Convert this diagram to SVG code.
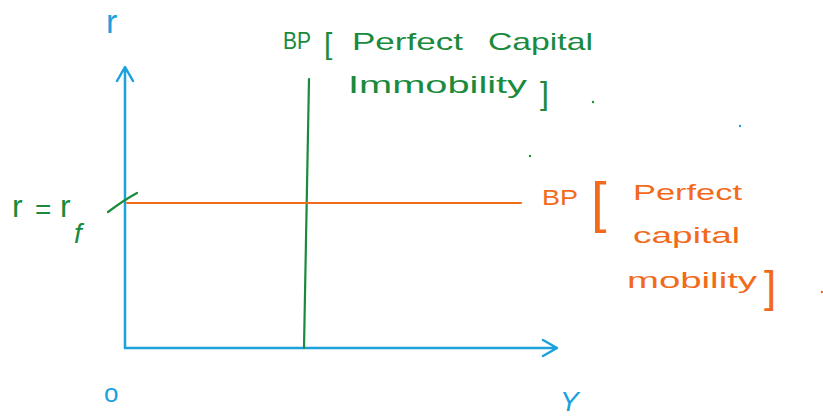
<svg xmlns="http://www.w3.org/2000/svg" width="823" height="419" viewBox="0 0 823 419">
<style>
.ax{fill:none;stroke:#1BA1DC;stroke-width:2.5;stroke-linecap:round;stroke-linejoin:round}
.gl{fill:none;stroke:#1A8A3C;stroke-width:2.2;stroke-linecap:round}
.ol{fill:none;stroke:#F26A1B;stroke-width:2.2;stroke-linecap:round}
text{font-family:"Liberation Sans","DejaVu Sans",sans-serif}
.b{fill:#1BA1DC}
.g{fill:#1A8A3C}
.o{fill:#F26A1B}
</style>
<rect width="823" height="419" fill="#ffffff"/>
<g id="connectors">
  <path class="ax" d="M125,348 L125,68 M117,81 L125,67 L133,81"/>
  <path class="ax" d="M125,348 L556,348 M543,340 L557,348 L543,356"/>
  <path class="gl" d="M309,79 L304,348"/>
  <path class="ol" d="M127,203 L521,203"/>
  <path class="gl" d="M108,212 Q124,200 137,193" stroke-width="3"/>
</g>
<g id="axis-labels">
  <text class="b" x="106" y="33" font-size="34">r</text>
  <text class="b" x="104" y="402" font-size="26">o</text>
  <text class="b" x="560" y="411" font-size="28" font-style="italic">Y</text>
</g>
<g id="rf-label">
  <text class="g" x="12" y="217" font-size="32">r</text>
  <text class="g" x="35" y="219" font-size="28">=</text>
  <text class="g" x="60" y="217" font-size="32">r</text>
  <text class="g" x="74" y="243" font-size="28" font-style="italic">f</text>
</g>
<g id="bp-immobility">
  <text class="g" x="283" y="49" font-size="24" textLength="28" lengthAdjust="spacingAndGlyphs">BP</text>
  <text class="g" x="324" y="54" font-size="30">[</text>
  <text class="g" x="352" y="50" font-size="24" textLength="111" lengthAdjust="spacingAndGlyphs">Perfect</text>
  <text class="g" x="488" y="50" font-size="24" textLength="105" lengthAdjust="spacingAndGlyphs">Capital</text>
  <text class="g" x="348" y="93" font-size="24" textLength="179" lengthAdjust="spacingAndGlyphs">Immobility</text>
  <text class="g" x="540" y="104" font-size="32">]</text>
  <circle class="g" cx="593" cy="102" r="1.2"/>
</g>
<g id="bp-mobility">
  <text class="o" x="542" y="205" font-size="22" textLength="36" lengthAdjust="spacingAndGlyphs">BP</text>
  <text class="o" x="591" y="221" font-size="56" font-weight="300">[</text>
  <text class="o" x="633" y="200" font-size="22" textLength="109" lengthAdjust="spacingAndGlyphs">Perfect</text>
  <text class="o" x="633" y="243" font-size="22" textLength="107" lengthAdjust="spacingAndGlyphs">capital</text>
  <text class="o" x="627" y="288" font-size="22" textLength="130" lengthAdjust="spacingAndGlyphs">mobility</text>
  <text class="o" x="764" y="302" font-size="44" font-weight="300">]</text>
  <circle class="o" cx="822" cy="292" r="1.2"/>
</g>
<g id="stray-dots">
  <circle fill="#1BA1DC" cx="740" cy="126" r="1.2"/>
  <circle fill="#1A8A3C" cx="530" cy="156" r="1.2"/>
</g>
</svg>
